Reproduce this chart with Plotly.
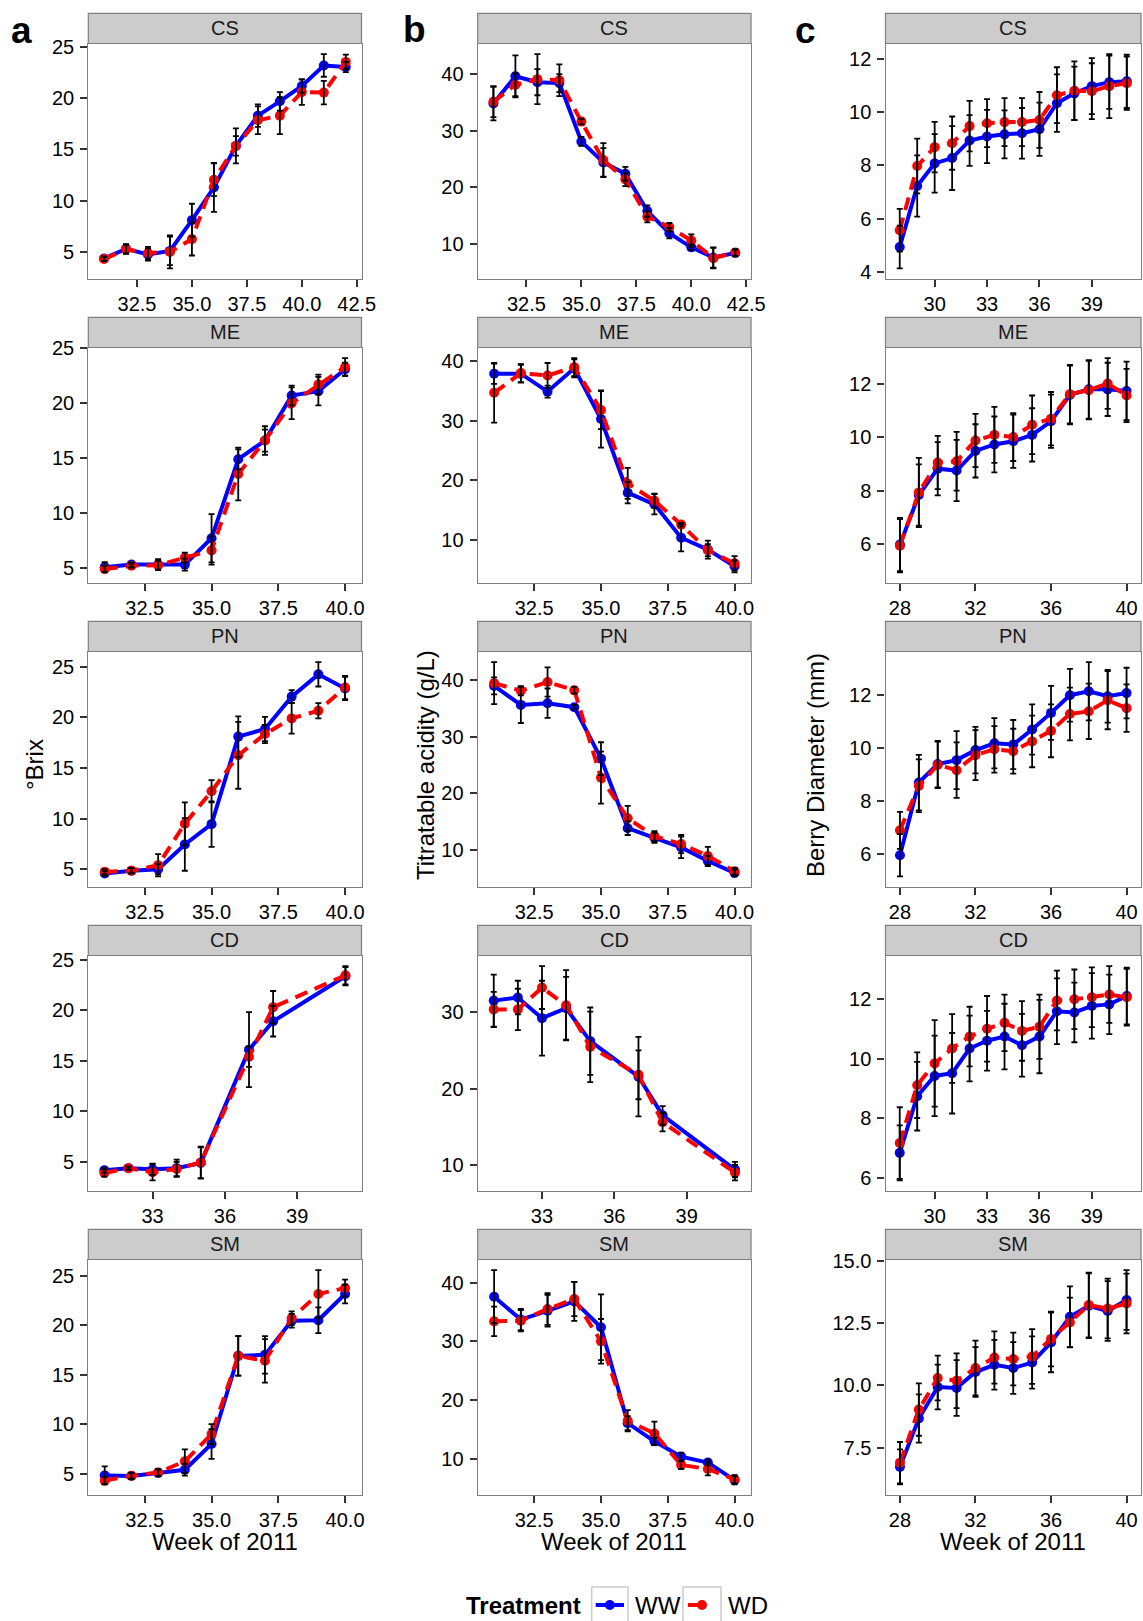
import plotly.graph_objects as go

# ---------------- data ----------------
cultivars = ["CS", "ME", "PN", "CD", "SM"]

wk_31_42 = [31, 32, 33, 34, 35, 36, 37, 38, 39, 40, 41, 42]
wk_31_40 = [31, 32, 33, 34, 35, 36, 37, 38, 39, 40]
wk_cd_ab = [31, 32, 33, 34, 35, 37, 38, 41]
wk_28_41 = [28, 29, 30, 31, 32, 33, 34, 35, 36, 37, 38, 39, 40, 41]
wk_28_40 = [28, 29, 30, 31, 32, 33, 34, 35, 36, 37, 38, 39, 40]

# (a) Brix
brix_CS_WW = [4.35, 5.3, 4.75, 5.1, 8.1, 11.3, 15.35, 18.3, 19.7, 21.2, 23.2, 23.05]
brix_CS_WW_se = [0.2, 0.45, 0.6, 1.4, 1.6, 2.4, 1.7, 1.1, 0.9, 0.65, 1.1, 0.5]
brix_CS_WD = [4.3, 5.25, 4.9, 5.0, 6.25, 12.05, 15.35, 17.85, 18.3, 20.6, 20.55, 23.55]
brix_CS_WD_se = [0.2, 0.45, 0.6, 1.6, 1.6, 1.6, 0.95, 1.35, 1.8, 1.25, 1.15, 0.7]

brix_ME_WW = [5.07, 5.3, 5.3, 5.3, 7.7, 14.9, 16.6, 20.7, 21.1, 23.1]
brix_ME_WW_se = [0.45, 0.2, 0.5, 0.55, 2.2, 0.9, 1.3, 0.9, 1.3, 0.6]
brix_ME_WD = [4.9, 5.2, 5.25, 5.95, 6.6, 13.55, 16.6, 20.0, 21.7, 23.3]
brix_ME_WD_se = [0.3, 0.2, 0.4, 0.45, 1.3, 2.4, 1.0, 1.45, 0.9, 0.8]

brix_PN_WW = [4.57, 4.85, 5.0, 7.45, 9.45, 18.1, 18.85, 22.05, 24.25, 22.85]
brix_PN_WW_se = [0.25, 0.25, 0.5, 2.6, 2.25, 2.0, 1.2, 0.65, 1.2, 1.15]
brix_PN_WD = [4.75, 4.85, 5.4, 9.5, 12.7, 16.25, 18.35, 19.9, 20.65, 22.95]
brix_PN_WD_se = [0.25, 0.25, 1.1, 2.1, 1.1, 3.3, 0.9, 1.5, 0.75, 1.15]

brix_CD_WW = [4.18, 4.38, 4.27, 4.38, 4.9, 16.1, 18.9, 23.35]
brix_CD_WW_se = [0.25, 0.15, 0.55, 0.85, 1.55, 3.7, 1.5, 0.9]
brix_CD_WD = [3.9, 4.38, 3.98, 4.3, 4.95, 15.4, 20.3, 23.45]
brix_CD_WD_se = [0.35, 0.15, 0.8, 0.7, 1.55, 1.0, 1.6, 0.9]

brix_SM_WW = [4.83, 4.76, 5.07, 5.4, 8.0, 16.9, 17.0, 20.45, 20.5, 23.15]
brix_SM_WW_se = [0.9, 0.3, 0.35, 0.6, 1.5, 2.0, 1.9, 0.7, 1.3, 0.95]
brix_SM_WD = [4.3, 4.8, 5.13, 6.25, 9.0, 16.9, 16.4, 20.7, 23.15, 23.75]
brix_SM_WD_se = [0.35, 0.3, 0.35, 1.2, 1.0, 2.0, 2.2, 0.7, 2.4, 0.85]

# (b) Titratable acidity
ta_CS_WW = [34.8, 39.6, 38.55, 38.4, 28.1, 24.4, 22.4, 15.8, 11.9, 9.4, 7.6, 8.4]
ta_CS_WW_se = [3.0, 3.7, 2.3, 1.6, 0.8, 2.5, 1.2, 1.0, 0.9, 0.5, 1.8, 0.6]
ta_CS_WD = [35.1, 38.1, 39.1, 38.9, 31.6, 24.8, 21.4, 14.8, 13.0, 10.6, 7.5, 8.5]
ta_CS_WD_se = [2.7, 2.0, 4.4, 2.8, 0.5, 3.0, 1.2, 1.0, 0.7, 1.1, 1.8, 0.6]

ta_ME_WW = [37.9, 37.9, 34.9, 38.8, 30.3, 17.95, 16.0, 10.4, 8.4, 5.6]
ta_ME_WW_se = [1.7, 1.5, 1.0, 1.5, 4.8, 1.8, 1.7, 2.3, 1.5, 1.0]
ta_ME_WD = [34.7, 38.0, 37.6, 39.0, 31.8, 19.5, 16.6, 12.6, 8.3, 6.1]
ta_ME_WD_se = [5.0, 1.5, 2.1, 1.5, 3.2, 2.6, 1.2, 0.3, 1.0, 1.2]

ta_PN_WW = [38.96, 35.6, 35.9, 35.2, 26.1, 13.8, 12.1, 10.4, 8.0, 5.9]
ta_PN_WW_se = [1.5, 3.2, 2.6, 0.4, 2.9, 1.2, 0.9, 1.9, 0.9, 0.6]
ta_PN_WD = [39.45, 38.1, 39.65, 38.2, 22.75, 15.55, 12.4, 11.0, 8.9, 6.2]
ta_PN_WD_se = [3.7, 0.8, 2.6, 0.6, 4.6, 2.2, 0.9, 1.6, 1.6, 0.6]

ta_CD_WW = [31.5, 31.9, 29.2, 30.5, 26.2, 21.55, 16.5, 9.4]
ta_CD_WW_se = [3.4, 2.2, 4.9, 4.1, 4.4, 5.2, 1.2, 1.0]
ta_CD_WD = [30.35, 30.35, 33.2, 30.9, 25.45, 21.8, 15.6, 9.0]
ta_CD_WD_se = [2.3, 2.7, 2.8, 4.6, 4.6, 3.2, 1.2, 1.0]

ta_SM_WW = [37.6, 33.7, 35.2, 36.8, 32.4, 16.1, 13.0, 10.4, 9.4, 6.4]
ta_SM_WW_se = [4.5, 1.8, 2.7, 3.3, 5.6, 1.2, 0.6, 0.7, 0.5, 0.7]
ta_SM_WD = [33.4, 33.5, 35.5, 37.2, 30.0, 16.5, 14.35, 9.0, 8.3, 6.55]
ta_SM_WD_se = [2.5, 1.8, 2.7, 2.9, 3.8, 1.8, 2.0, 0.7, 1.1, 0.7]

# (c) Berry diameter
bd_CS_WW = [4.93, 7.22, 8.07, 8.27, 8.93, 9.08, 9.16, 9.2, 9.35, 10.33, 10.7, 10.97, 11.12, 11.15]
bd_CS_WW_se = [0.8, 1.15, 1.1, 1.2, 0.95, 1.0, 0.9, 0.95, 1.0, 1.08, 1.0, 1.05, 1.0, 1.0]
bd_CS_WD = [5.56, 7.97, 8.68, 8.83, 9.47, 9.58, 9.62, 9.62, 9.7, 10.63, 10.8, 10.78, 10.97, 11.08]
bd_CS_WD_se = [0.8, 1.03, 0.95, 1.0, 0.95, 0.9, 0.9, 0.9, 1.05, 1.05, 1.1, 1.05, 1.2, 1.0]

bd_ME_WW = [5.97, 7.83, 8.82, 8.75, 9.49, 9.73, 9.85, 10.09, 10.6, 11.59, 11.8, 11.8, 11.74]
bd_ME_WW_se = [1.0, 1.15, 1.0, 1.15, 1.0, 1.05, 1.0, 1.0, 1.0, 1.1, 1.1, 1.0, 1.1]
bd_ME_WD = [5.93, 7.93, 9.05, 9.1, 9.88, 10.09, 10.01, 10.47, 10.7, 11.62, 11.77, 12.02, 11.57]
bd_ME_WD_se = [1.0, 1.3, 1.0, 1.1, 1.0, 1.05, 0.9, 1.1, 1.0, 1.1, 1.1, 0.95, 1.0]

bd_PN_WW = [5.94, 8.69, 9.39, 9.54, 9.92, 10.18, 10.13, 10.7, 11.33, 12.0, 12.15, 11.96, 12.08]
bd_PN_WW_se = [0.8, 1.05, 0.88, 1.1, 0.88, 0.95, 0.93, 0.95, 1.02, 1.0, 1.1, 1.0, 0.96]
bd_PN_WD = [6.88, 8.57, 9.36, 9.16, 9.73, 9.95, 9.88, 10.25, 10.65, 11.29, 11.39, 11.81, 11.51]
bd_PN_WD_se = [0.7, 1.0, 0.88, 1.05, 0.95, 0.88, 0.85, 0.98, 1.0, 1.0, 1.05, 1.1, 0.9]

bd_CD_WW = [6.84, 8.74, 9.42, 9.51, 10.34, 10.6, 10.74, 10.45, 10.74, 11.59, 11.55, 11.77, 11.82, 12.1]
bd_CD_WW_se = [0.92, 1.15, 1.35, 1.35, 1.1, 1.0, 1.1, 1.05, 1.23, 1.1, 1.0, 1.1, 1.0, 0.95]
bd_CD_WD = [7.17, 9.11, 9.84, 10.34, 10.74, 11.0, 11.2, 10.93, 11.07, 11.95, 11.99, 12.06, 12.15, 12.06]
bd_CD_WD_se = [1.2, 1.1, 1.45, 1.15, 1.0, 1.1, 0.95, 1.0, 1.08, 1.0, 1.0, 1.0, 0.95, 0.95]

bd_SM_WW = [6.73, 8.67, 9.94, 9.9, 10.54, 10.83, 10.7, 10.92, 11.73, 12.76, 13.2, 12.99, 13.43]
bd_SM_WW_se = [0.7, 0.97, 0.9, 1.12, 1.0, 1.0, 1.04, 1.05, 1.2, 1.22, 1.3, 1.2, 1.2]
bd_SM_WD = [6.9, 9.03, 10.3, 10.19, 10.7, 11.12, 11.06, 11.16, 11.87, 12.53, 13.23, 13.09, 13.29]
bd_SM_WD_se = [0.83, 1.05, 0.9, 1.1, 1.1, 1.05, 1.06, 1.1, 1.1, 1.0, 1.3, 1.2, 1.2]

# tick labels
xt_ab_long = ["32.5", "35.0", "37.5", "40.0", "42.5"]
xt_ab = ["32.5", "35.0", "37.5", "40.0"]
xt_ab_cd = ["33", "36", "39"]
xt_c_3 = ["30", "33", "36", "39"]
xt_c_4 = ["28", "32", "36", "40"]
yt_brix = ["5", "10", "15", "20", "25"]
yt_ta = ["10", "20", "30", "40"]
yt_ta_cd = ["10", "20", "30"]
yt_bd_cs = ["4", "6", "8", "10", "12"]
yt_bd = ["6", "8", "10", "12"]
yt_bd_sm = ["7.5", "10.0", "12.5", "15.0"]

column_titles = ["°Brix", "Titratable acidity (g/L)", "Berry Diameter (mm)"]
panel_letters = ["a", "b", "c"]
x_title = "Week of 2011"
legend_title = "Treatment"
treatments = ["WW", "WD"]

# panel table: [column][row] -> (weeks, WW, WW_se, WD, WD_se, xticks, yticks)
panels = [
    [
        (wk_31_42, brix_CS_WW, brix_CS_WW_se, brix_CS_WD, brix_CS_WD_se, xt_ab_long, yt_brix),
        (wk_31_40, brix_ME_WW, brix_ME_WW_se, brix_ME_WD, brix_ME_WD_se, xt_ab, yt_brix),
        (wk_31_40, brix_PN_WW, brix_PN_WW_se, brix_PN_WD, brix_PN_WD_se, xt_ab, yt_brix),
        (wk_cd_ab, brix_CD_WW, brix_CD_WW_se, brix_CD_WD, brix_CD_WD_se, xt_ab_cd, yt_brix),
        (wk_31_40, brix_SM_WW, brix_SM_WW_se, brix_SM_WD, brix_SM_WD_se, xt_ab, yt_brix),
    ],
    [
        (wk_31_42, ta_CS_WW, ta_CS_WW_se, ta_CS_WD, ta_CS_WD_se, xt_ab_long, yt_ta),
        (wk_31_40, ta_ME_WW, ta_ME_WW_se, ta_ME_WD, ta_ME_WD_se, xt_ab, yt_ta),
        (wk_31_40, ta_PN_WW, ta_PN_WW_se, ta_PN_WD, ta_PN_WD_se, xt_ab, yt_ta),
        (wk_cd_ab, ta_CD_WW, ta_CD_WW_se, ta_CD_WD, ta_CD_WD_se, xt_ab_cd, yt_ta_cd),
        (wk_31_40, ta_SM_WW, ta_SM_WW_se, ta_SM_WD, ta_SM_WD_se, xt_ab, yt_ta),
    ],
    [
        (wk_28_41, bd_CS_WW, bd_CS_WW_se, bd_CS_WD, bd_CS_WD_se, xt_c_3, yt_bd_cs),
        (wk_28_40, bd_ME_WW, bd_ME_WW_se, bd_ME_WD, bd_ME_WD_se, xt_c_4, yt_bd),
        (wk_28_40, bd_PN_WW, bd_PN_WW_se, bd_PN_WD, bd_PN_WD_se, xt_c_4, yt_bd),
        (wk_28_41, bd_CD_WW, bd_CD_WW_se, bd_CD_WD, bd_CD_WD_se, xt_c_3, yt_bd),
        (wk_28_40, bd_SM_WW, bd_SM_WW_se, bd_SM_WD, bd_SM_WD_se, xt_c_4, yt_bd_sm),
    ],
]

# ---------------- layout geometry (pixels) ----------------
W, H = 1143, 1621
FONT = "Liberation Sans, Arial, Helvetica, sans-serif"
COL_X = [(88.3, 361.5), (477.7, 751.0), (885.5, 1141.0)]
ROW_PITCH = 304.0
STRIP_TOP0 = 13.3
STRIP_H = 30.2
PLOT_BOT0 = 279.0
BLUE = "#0000FF"
RED = "#FF0000"
BORDER = "#7F7F7F"


def px(x):
    return x / W


def py(y):
    return 1 - y / H


fig = go.Figure()
layout = {}
shapes = []
annotations = []

for c in range(3):
    for r in range(5):
        k = r * 3 + c + 1
        weeks, ww, ww_se, wd, wd_se, xtl, ytl = panels[c][r]
        xa = "x" if k == 1 else f"x{k}"
        ya = "y" if k == 1 else f"y{k}"
        x0, x1 = COL_X[c]
        strip_top = STRIP_TOP0 + ROW_PITCH * r
        plot_top = strip_top + STRIP_H
        plot_bot = PLOT_BOT0 + ROW_PITCH * r

        # ranges (ggplot-like: data incl. errorbars, 5% expansion)
        xmin, xmax = min(weeks) - 0.15, max(weeks) + 0.15
        xs = xmax - xmin
        lo = min(min(v - s for v, s in zip(ww, ww_se)), min(v - s for v, s in zip(wd, wd_se)))
        hi = max(max(v + s for v, s in zip(ww, ww_se)), max(v + s for v, s in zip(wd, wd_se)))
        ys = hi - lo

        axis_common = dict(
            showgrid=False, zeroline=False, showline=True, mirror=True,
            linecolor=BORDER, linewidth=1.3, ticks="outside", ticklen=7,
            tickwidth=1.8, tickcolor="#333333", automargin=False,
            tickfont=dict(family=FONT, size=20, color="#000000"),
        )
        layout["xaxis" if k == 1 else f"xaxis{k}"] = dict(
            axis_common, domain=[px(x0), px(x1)], anchor=ya,
            range=[xmin - 0.05 * xs, xmax + 0.05 * xs],
            tickmode="array", tickvals=[float(t) for t in xtl], ticktext=xtl,
        )
        layout["yaxis" if k == 1 else f"yaxis{k}"] = dict(
            axis_common, domain=[py(plot_bot), py(plot_top)], anchor=xa,
            range=[lo - 0.05 * ys, hi + 0.05 * ys],
            tickmode="array", tickvals=[float(t) for t in ytl], ticktext=ytl,
            ticklabelstandoff=2,
        )

        # lines + points
        fig.add_trace(go.Scatter(
            x=weeks, y=ww, mode="lines+markers", xaxis=xa, yaxis=ya,
            line=dict(color=BLUE, width=4), marker=dict(color=BLUE, size=10),
            showlegend=False, name="WW"))
        fig.add_trace(go.Scatter(
            x=weeks, y=wd, mode="lines+markers", xaxis=xa, yaxis=ya,
            line=dict(color=RED, width=4, dash="13px,8px"), marker=dict(color=RED, size=10),
            showlegend=False, name="WD"))
        # error bars on top
        for vals, se in ((ww, ww_se), (wd, wd_se)):
            fig.add_trace(go.Scatter(
                x=weeks, y=vals, mode="markers", xaxis=xa, yaxis=ya,
                marker=dict(size=1, color="rgba(0,0,0,0)"),
                error_y=dict(type="data", array=se, visible=True, color="#000000",
                             thickness=1.8, width=3),
                showlegend=False, hoverinfo="skip"))

        # strip
        shapes.append(dict(type="rect", xref="paper", yref="paper",
                           x0=px(x0), x1=px(x1), y0=py(plot_top), y1=py(strip_top),
                           fillcolor="#CCCCCC", line=dict(color=BORDER, width=1.2),
                           layer="below"))
        annotations.append(dict(text=cultivars[r], xref="paper", yref="paper",
                                x=px((x0 + x1) / 2), y=py(strip_top + STRIP_H / 2),
                                showarrow=False, xanchor="center", yanchor="middle",
                                font=dict(family=FONT, size=20, color="#1A1A1A")))

# column titles, letters, x titles
ytitle_x = [34, 425, 815]
letter_pos = [(21, 31), (414, 30), (805, 31)]
for c in range(3):
    annotations.append(dict(text=column_titles[c], xref="paper", yref="paper",
                            x=px(ytitle_x[c]), y=py(765), textangle=-90,
                            showarrow=False, xanchor="center", yanchor="middle",
                            font=dict(family=FONT, size=24, color="#000000")))
    annotations.append(dict(text=f"<b>{panel_letters[c]}</b>", xref="paper", yref="paper",
                            x=px(letter_pos[c][0]), y=py(letter_pos[c][1]),
                            showarrow=False, xanchor="center", yanchor="middle",
                            font=dict(family=FONT, size=37, color="#000000")))
    x0, x1 = COL_X[c]
    annotations.append(dict(text=x_title, xref="paper", yref="paper",
                            x=px((x0 + x1) / 2), y=py(1541.5),
                            showarrow=False, xanchor="center", yanchor="middle",
                            font=dict(family=FONT, size=24, color="#000000")))

# manual legend
LEG_Y = 1605
annotations.append(dict(text=f"<b>{legend_title}</b>", xref="paper", yref="paper",
                        x=px(583), y=py(LEG_Y), showarrow=False,
                        xanchor="right", yanchor="middle",
                        font=dict(family=FONT, size=24, color="#000000")))
key_boxes = [(591.7, 628.0), (683.0, 721.0)]
key_cols = [BLUE, RED]
label_x = [633.0, 726.0]
for i in range(2):
    bx0, bx1 = key_boxes[i]
    shapes.append(dict(type="rect", xref="paper", yref="paper",
                       x0=px(bx0), x1=px(bx1), y0=py(1624), y1=py(1587),
                       fillcolor="#FFFFFF", line=dict(color="#CCCCCC", width=1.5)))
    cx = (bx0 + bx1) / 2
    if i == 0:
        lx0, lx1 = bx0 + 4, bx1 - 4
    else:
        lx0, lx1 = bx0 + 5, cx
    shapes.append(dict(type="line", xref="paper", yref="paper",
                       x0=px(lx0), x1=px(lx1), y0=py(LEG_Y), y1=py(LEG_Y),
                       line=dict(color=key_cols[i], width=4)))
    shapes.append(dict(type="circle", xref="paper", yref="paper",
                       x0=px(cx - 5), x1=px(cx + 5), y0=py(LEG_Y + 5), y1=py(LEG_Y - 5),
                       fillcolor=key_cols[i], line=dict(color=key_cols[i], width=0)))
    annotations.append(dict(text=treatments[i], xref="paper", yref="paper",
                            x=px(label_x[i]), y=py(LEG_Y), showarrow=False,
                            xanchor="left", yanchor="middle",
                            font=dict(family=FONT, size=24, color="#000000")))

fig.update_layout(
    **layout,
    width=W, height=H,
    margin=dict(l=0, r=0, t=0, b=0, pad=0, autoexpand=False),
    paper_bgcolor="#FFFFFF", plot_bgcolor="#FFFFFF",
    showlegend=False,
    shapes=shapes, annotations=annotations,
    font=dict(family=FONT),
)

fig.write_html("out.html")
